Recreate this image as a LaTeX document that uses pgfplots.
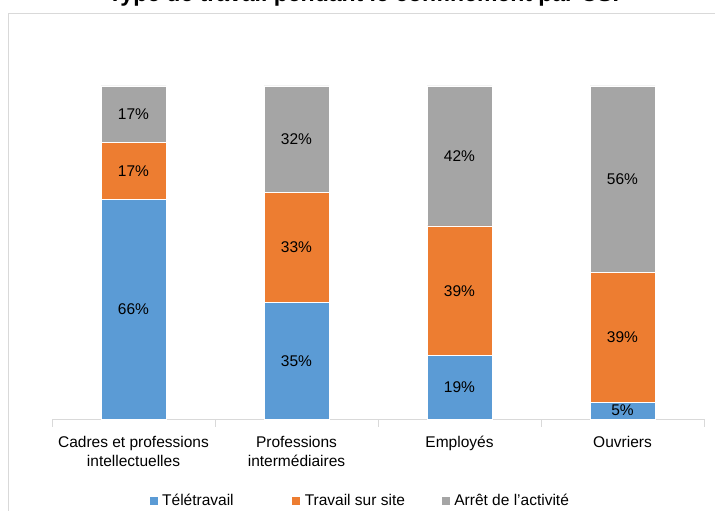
\documentclass[border=0pt]{standalone}
\usepackage{pgfplots}
\pgfplotsset{compat=1.18}
\usepackage{fontspec}
\setmainfont{Liberation Sans}
\definecolor{cBlue}{HTML}{5B9BD5}
\definecolor{cOrange}{HTML}{ED7D31}
\definecolor{cGray}{HTML}{A5A5A5}
\definecolor{cAxis}{HTML}{D9D9D9}
\newcommand{\lf}{\fontsize{15.5bp}{19bp}\selectfont}
\begin{document}
\begin{tikzpicture}
\fill[white] (0,0) rectangle (715bp,511bp);
\draw[cAxis, line width=1bp] (8bp,-5bp) -- (8bp,497bp) -- (720bp,497bp);
\node[font=\fontsize{23bp}{28bp}\selectfont\bfseries, anchor=base, inner sep=0] at (368bp,509bp) {Type de travail pendant le confinement par CSP};
\begin{axis}[
  at={(52bp,92bp)}, anchor=south west,
  scale only axis, width=652bp, height=333bp,
  ybar stacked, bar width=65bp,
  xmin=-0.5, xmax=3.5, ymin=0, ymax=100,
  axis y line=none, axis x line*=bottom,
  axis line style={cAxis, line width=1bp},
  xtick={0,1,2,3},
  xticklabels={{Cadres et professions\\intellectuelles},{Professions\\intermédiaires},{Employés},{Ouvriers}},
  xticklabel style={align=center, font=\lf, text=black, yshift=-9bp},
  major x tick style={draw=none},
  minor xtick={-0.5,0.5,1.5,2.5,3.5},
  minor tick length=8bp,
  tick align=outside,
  minor x tick style={cAxis, line width=1bp},
  clip=false,
  visualization depends on=rawy \as \rawy,
  nodes near coords={\pgfmathprintnumber[fixed,precision=0,assume math mode=true]{\rawy}\%},
  every node near coord/.append style={anchor=center, font=\lf, text=black},
  legend style={at={(0.472,-0.2462)}, anchor=center, draw=none, fill=none,
     legend columns=3, font=\lf,
     /tikz/every even column/.append style={column sep=0bp}},
  legend image code/.code={\fill[#1] (0bp,-4.5bp) rectangle (9bp,4.5bp);},
]
\addplot[fill=cBlue, draw=white, line width=0.6bp] coordinates {(0,66) (1,35) (2,19) (3,5)};
\addlegendentry{\makebox[129bp][l]{\hspace{2bp}Télétravail}}
\addplot[fill=cOrange, draw=white, line width=0.6bp] coordinates {(0,17) (1,33) (2,39) (3,39)};
\addlegendentry{\makebox[136bp][l]{\hspace{2bp}Travail sur site}}
\addplot[fill=cGray, draw=white, line width=0.6bp] coordinates {(0,17) (1,32) (2,42) (3,56)};
\addlegendentry{\hspace{2bp}Arrêt de l’activité}
\end{axis}
\pgfresetboundingbox
\useasboundingbox (0,0) rectangle (715bp,511bp);
\end{tikzpicture}
\end{document}
